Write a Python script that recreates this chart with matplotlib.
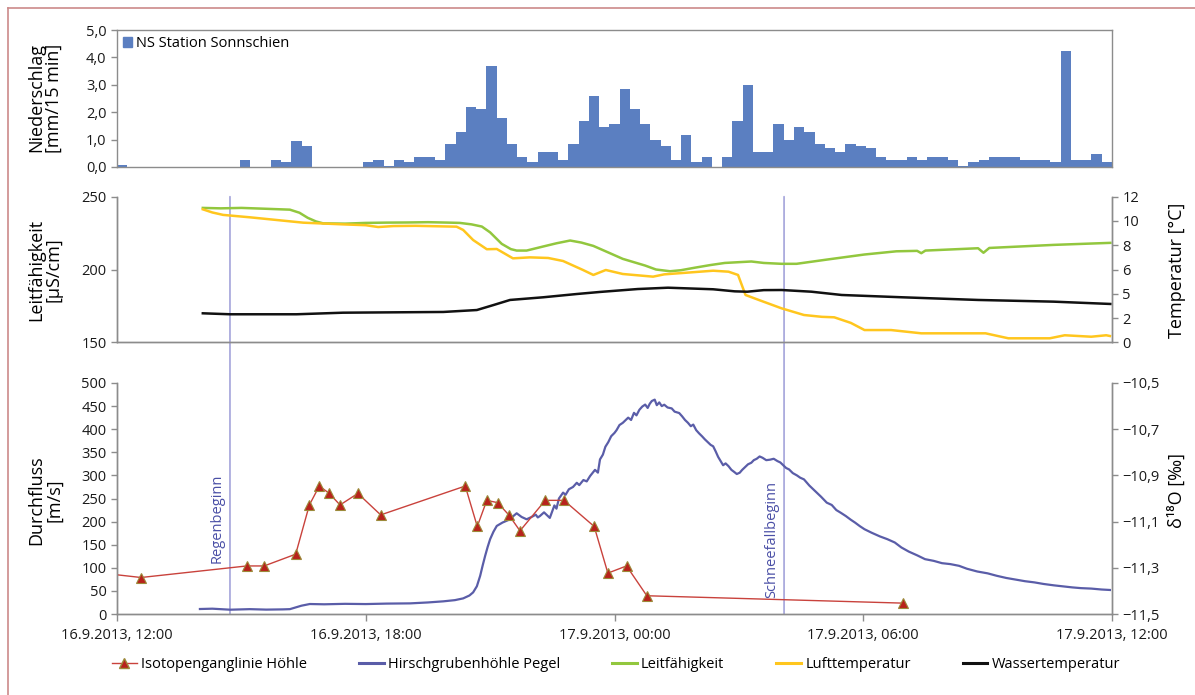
# -*- coding: utf-8 -*-
"""Hirschgrubenhöhle event 16./17.9.2013: precipitation, conductivity/temperature, discharge + d18O."""
import matplotlib; matplotlib.use("Agg")
import matplotlib.pyplot as plt
from matplotlib.lines import Line2D
from matplotlib.patches import Patch, ConnectionPatch

plt.rcParams["font.family"] = ["Open Sans", "DejaVu Sans"]
plt.rcParams["axes.unicode_minus"] = True

# ---- data (time = hours after 16.9.2013 12:00) ----
# precipitation, 97 x 15-min classes from 12:00 to 12:00
precip = [0.07, 0, 0, 0, 0, 0, 0, 0, 0, 0, 0, 0, 0.27, 0, 0, 0.27, 0.17, 0.95, 0.77, 0,
          0, 0, 0, 0, 0.17, 0.26, 0.05, 0.24, 0.17, 0.38, 0.38, 0.24, 0.84, 1.27, 2.19, 2.12,
          3.70, 1.80, 0.84, 0.38, 0.17, 0.55, 0.55, 0.24, 0.84, 1.67, 2.58, 1.46, 1.58, 2.86,
          2.10, 1.58, 1.00, 0.75, 0.24, 1.15, 0.17, 0.38, 0.0, 0.38, 1.67, 3.00, 0.55, 0.55,
          1.58, 1.00, 1.45, 1.27, 0.84, 0.68, 0.55, 0.84, 0.75, 0.68, 0.38, 0.24, 0.24, 0.38,
          0.24, 0.38, 0.38, 0.24, 0.05, 0.17, 0.24, 0.38, 0.38, 0.38, 0.24, 0.24, 0.24, 0.17,
          4.22, 0.24, 0.24, 0.47, 0.17]

lf_t = [2.07, 2.5, 3.0, 3.5, 4.17, 4.4, 4.6, 4.8, 4.97, 5.5, 6.0, 6.5, 7.0, 7.5, 8.0, 8.27,
        8.55, 8.8, 9.0, 9.28, 9.5, 9.64, 9.88, 10.28, 10.6, 10.93, 11.2, 11.49, 11.65, 11.89,
        12.2, 12.74, 13.0, 13.34, 13.6, 13.93, 14.3, 14.66, 15.3, 15.6, 16.03, 16.39, 17.12,
        18.03, 18.8, 19.3, 19.4, 19.5, 20.77, 20.9, 21.04, 22.59, 23.96]
lf_val = [242.3, 242.0, 242.3, 241.8, 241.1, 239.0, 235.5, 233.0, 231.7, 231.5, 232.0, 232.2,
          232.3, 232.5, 232.2, 232.0, 231.0, 229.5, 225.5, 217.6, 214.0, 213.0, 213.0, 215.8,
          218.0, 219.9, 218.5, 216.2, 214.2, 211.2, 207.3, 202.7, 200.0, 198.8, 199.5, 201.2,
          203.0, 204.5, 205.5, 204.5, 203.9, 203.9, 206.8, 210.3, 212.5, 212.8, 211.2, 213.0,
          214.6, 211.5, 214.8, 216.9, 218.3]

lt_t = [2.07, 2.3, 2.56, 3.21, 3.85, 4.49, 5.45, 6.0, 6.3, 6.66, 7.2, 8.19, 8.35, 8.59, 8.92,
        9.16, 9.55, 9.96, 10.4, 10.76, 11.24, 11.49, 11.79, 12.2, 12.93, 13.2, 13.75, 14.38,
        14.75, 14.98, 15.16, 15.48, 16.03, 16.57, 17.0, 17.3, 17.7, 18.03, 18.67, 19.4, 20.95,
        21.5, 22.5, 22.86, 23.5, 23.86, 23.95]
lt_val = [10.96, 10.7, 10.5, 10.3, 10.08, 9.86, 9.72, 9.65, 9.5, 9.58, 9.6, 9.53, 9.26, 8.43,
          7.67, 7.69, 6.92, 7.0, 6.95, 6.7, 5.96, 5.55, 5.96, 5.63, 5.41, 5.6, 5.74, 5.9, 5.82,
          5.55, 3.9, 3.49, 2.8, 2.25, 2.1, 2.06, 1.6, 1.01, 1.01, 0.74, 0.74, 0.33, 0.33, 0.58,
          0.46, 0.58, 0.52]

wt_t = [2.07, 2.73, 4.33, 5.45, 7.87, 8.68, 9.08, 9.48, 10.28, 11.09, 11.65, 12.56, 13.29,
        14.38, 14.9, 15.2, 15.6, 16.03, 16.75, 17.48, 18.94, 20.77, 22.59, 23.96]
wt_val = [2.39, 2.31, 2.31, 2.44, 2.5, 2.66, 3.07, 3.49, 3.71, 3.98, 4.15, 4.39, 4.5, 4.37,
          4.2, 4.17, 4.3, 4.31, 4.17, 3.9, 3.71, 3.49, 3.35, 3.16]

peg_t = [2.0, 2.3, 2.73, 3.2, 3.6, 4.0, 4.17, 4.3, 4.45, 4.65, 5.0, 5.5, 6.0, 6.5, 7.07, 7.5,
         7.87, 8.15, 8.35, 8.5, 8.59, 8.68, 8.76, 8.82, 8.88, 8.94, 9.0, 9.08, 9.16, 9.3, 9.48,
         9.56, 9.64, 9.7, 9.76, 9.88, 10.0, 10.1, 10.15, 10.2, 10.3, 10.38, 10.44, 10.55, 10.6,
         10.66, 10.76, 10.82, 10.9, 11.0, 11.09, 11.15, 11.25, 11.33, 11.41, 11.53, 11.6, 11.65,
         11.72, 11.78, 11.85, 11.92, 12.0, 12.05, 12.12, 12.2, 12.27, 12.33, 12.4, 12.47, 12.53,
         12.6, 12.67, 12.74, 12.8, 12.85, 12.9, 12.97, 13.02, 13.08, 13.14, 13.2, 13.28, 13.38,
         13.45, 13.56, 13.63, 13.7, 13.77, 13.84, 13.9, 13.97, 14.04, 14.11, 14.18, 14.25, 14.32,
         14.38, 14.44, 14.5, 14.56, 14.62, 14.68, 14.75, 14.82, 14.88, 14.95, 15.02, 15.08, 15.15,
         15.22, 15.3, 15.36, 15.43, 15.5, 15.57, 15.66, 15.75, 15.84, 15.93, 16.0, 16.07, 16.14,
         16.21, 16.3, 16.4, 16.48, 16.57, 16.7, 16.85, 16.98, 17.12, 17.24, 17.35, 17.46, 17.58,
         17.7, 17.8, 17.92, 18.03, 18.2, 18.4, 18.58, 18.76, 18.92, 19.1, 19.3, 19.49, 19.7,
         19.9, 20.1, 20.31, 20.5, 20.75, 21.0, 21.22, 21.45, 21.7, 21.9, 22.13, 22.35, 22.6,
         22.8, 23.04, 23.25, 23.5, 23.75, 23.95]
peg_val = [10.8, 11.5, 9.3, 10.5, 9.5, 10, 10.5, 14, 18, 21.6, 21, 22, 21.5, 22.5, 23, 25, 27.4,
           30, 33.8, 40, 46.8, 60, 82.7, 105, 125.9, 145, 161.9, 178, 190.6, 198, 205, 212, 218,
           214, 210, 205, 210, 215, 209, 212, 220, 213, 208, 235, 228, 250, 262.7, 258, 270, 275,
           284, 279, 290, 287, 298.5, 312, 306, 334.6, 345, 362, 372, 384.8, 392, 398, 409, 413.8,
           420, 425, 420, 435.4, 430, 442, 449, 453.3, 446, 455, 461, 464, 452, 458, 450, 453,
           447, 445, 438, 435, 428, 420, 414, 406.5, 410, 398, 391, 384.8, 378, 372, 366, 363,
           352, 340, 331, 322, 326, 320, 312, 308, 303, 305.8, 312, 318, 324, 327.4, 333, 336, 341,
           338.2, 333, 334, 336, 331, 328, 322, 316, 313, 305, 300, 295, 291.4, 278, 265, 254, 241,
           236, 225, 219, 212, 204, 198, 190, 183.5, 176, 168, 162, 154.8, 144, 135, 127, 118.7,
           115, 110, 108, 104.3, 98, 92, 88, 82.7, 78, 74, 71, 68.4, 65, 62, 60, 57.6, 56, 55, 53,
           52]

iso_t = [-2.0, 0.58, 3.13, 3.55, 4.31, 4.64, 4.88, 5.12, 5.38, 5.81, 6.36, 8.40, 8.69, 8.92,
         9.18, 9.45, 9.72, 10.33, 10.78, 11.51, 11.84, 12.29, 12.78, 18.97]
iso_val = [-11.29, -11.342, -11.292, -11.292, -11.241, -11.028, -10.946, -10.978, -11.028,
           -10.978, -11.071, -10.946, -11.121, -11.008, -11.018, -11.071, -11.140, -11.008,
           -11.008, -11.121, -11.323, -11.292, -11.421, -11.453]

events = [2.725, 16.09]
event_labels = ["Regenbeginn", "Schneefallbeginn"]
event_text_y = [110, 35]

x_ticks = [0, 6, 12, 18, 24]
x_labels = ["16.9.2013, 12:00", "16.9.2013, 18:00", "17.9.2013, 00:00",
            "17.9.2013, 06:00", "17.9.2013, 12:00"]
temp_ticks = [0, 2, 4, 6, 8, 10, 12]
temp_labels = ["0", "2", "5", "6", "8", "10", "12"]
d18_ticks = [-11.5, -11.3, -11.1, -10.9, -10.7, -10.5]

# ---- styling ----
BAR = "#5B7FC1"; PEG = "#5A5DA8"; ISO = "#C9423C"; LF = "#92C73E"; LT = "#FFC61E"; WT = "#111111"
EVL = "#ABABDD"; EVT = "#4A4FA6"; SPN = "#8C8C8C"; FRAME = "#CC8A8A"
TS = 10.5; LS = 13

W, H = 1195, 695
fig = plt.figure(figsize=(W / 100, H / 100), dpi=100)


def frac(left, top, right, bottom):
    return [left / W, 1 - bottom / H, (right - left) / W, (bottom - top) / H]


ax1 = fig.add_axes(frac(117, 30, 1112, 167))
ax2 = fig.add_axes(frac(117, 196.7, 1112, 342.3))
ax3 = fig.add_axes(frac(117, 383, 1112, 614))
ax2r = ax2.twinx()
ax3r = ax3.twinx()

for a in (ax1, ax2, ax3, ax2r, ax3r):
    a.set_facecolor("none")
    for s in a.spines.values():
        s.set_color(SPN)
        s.set_linewidth(1.0)
    a.tick_params(colors=SPN, labelcolor="#1a1a1a", labelsize=TS, length=4, width=1)

# top: precipitation bars
ax1.bar(range(len(precip)), precip, width=1.0, color=BAR, label="NS Station Sonnschien")
ax1.set_xlim(-0.5, len(precip) - 0.5)
ax1.set_ylim(0, 5)
ax1.set_yticks([0, 1, 2, 3, 4, 5])
ax1.set_yticklabels(["0,0", "1,0", "2,0", "3,0", "4,0", "5,0"])
ax1.set_xticks([])
ax1.legend(handles=[Patch(color=BAR)], labels=["NS Station Sonnschien"], loc="upper left",
           frameon=False, fontsize=TS, handlelength=0.6, handleheight=0.7, handletextpad=0.3,
           borderaxespad=0.2, borderpad=0.2)

# middle: conductivity + temperatures
ax2.plot(lf_t, lf_val, color=LF, lw=1.8)
ax2r.plot(lt_t, lt_val, color=LT, lw=1.8)
ax2r.plot(wt_t, wt_val, color=WT, lw=1.8)
ax2.set_xlim(0, 24); ax2.set_ylim(150, 250)
ax2.set_yticks([150, 200, 250])
ax2.set_xticks([])
ax2r.set_ylim(0, 12)
ax2r.set_yticks(temp_ticks)
ax2r.set_yticklabels(temp_labels)
for a in (ax2, ax2r):
    a.spines["top"].set_visible(False)

# bottom: discharge + isotopes
ax3.plot(peg_t, peg_val, color=PEG, lw=1.6)
ax3r.plot(iso_t, iso_val, color=ISO, lw=1.0, marker="^", ms=7, mfc="#B8221C", mec="#9C8A3A", mew=0.8)
ax3.set_xlim(0, 24); ax3.set_ylim(0, 500)
ax3.set_yticks(range(0, 501, 50))
ax3.set_xticks(x_ticks)
ax3.set_xticklabels(x_labels)
ax3.tick_params(axis="x", length=5, pad=5)
ax3r.set_ylim(-11.5, -10.5)
ax3r.set_yticks(d18_ticks)
ax3r.set_yticklabels([("\u2212%.1f" % abs(v)).replace(".", ",") for v in d18_ticks])
for a in (ax3, ax3r):
    a.spines["top"].set_visible(False)

# event lines through middle and bottom panel
for t, lab, ty in zip(events, event_labels, event_text_y):
    con = ConnectionPatch(xyA=(t, 1.0), coordsA=ax2.get_xaxis_transform(),
                          xyB=(t, 0.0), coordsB=ax3.get_xaxis_transform(),
                          color=EVL, lw=1.3, zorder=-1)
    fig.add_artist(con)
    ax3.text(t - 0.12, ty, lab, rotation=90, ha="right", va="bottom", color=EVT, fontsize=10.5)

# axis titles
fig.text(45 / W, 1 - 98 / H, "Niederschlag\n[mm/15 min]", rotation=90, ha="center", va="center",
         fontsize=LS, linespacing=1.0, multialignment="center")
fig.text(45 / W, 1 - 270 / H, "Leitfähigkeit\n[µS/cm]", rotation=90, ha="center", va="center",
         fontsize=LS, linespacing=1.0, multialignment="center")
fig.text(45 / W, 1 - 500 / H, "Durchfluss\n[m/s]", rotation=90, ha="center", va="center",
         fontsize=LS, linespacing=1.0, multialignment="center")
fig.text(1177 / W, 1 - 270 / H, "Temperatur [°C]", rotation=90, ha="center", va="center", fontsize=LS)
fig.text(1177 / W, 1 - 490 / H, "δ¹⁸O [‰]", rotation=90, ha="center", va="center", fontsize=LS)

# legend
handles = [Line2D([], [], color=ISO, lw=1.0, marker="^", ms=7, mfc="#B8221C", mec="#9C8A3A"),
           Line2D([], [], color=PEG, lw=2.2), Line2D([], [], color=LF, lw=2.2),
           Line2D([], [], color=LT, lw=2.2), Line2D([], [], color=WT, lw=2.2)]
labels = ["Isotopenganglinie Höhle", "Hirschgrubenhöhle Pegel", "Leitfähigkeit",
          "Lufttemperatur", "Wassertemperatur"]
fig.legend(handles, labels, loc="center", bbox_to_anchor=(616 / W, 1 - 665 / H), ncol=5,
           frameon=False, fontsize=TS, handlelength=1.7, handletextpad=0.3, columnspacing=3.55)

# outer frame (left and top edge visible)
fig.add_artist(Line2D([7.5 / W, 7.5 / W], [0, 1 - 8 / H], color=FRAME, lw=1.2))
fig.add_artist(Line2D([7.5 / W, 1], [1 - 8 / H, 1 - 8 / H], color=FRAME, lw=1.2))

fig.savefig("out.png", dpi=100, facecolor="white")
